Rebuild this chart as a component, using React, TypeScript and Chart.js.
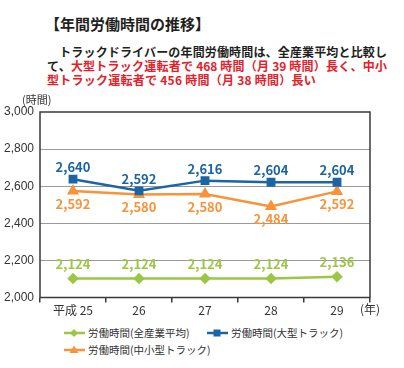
import React, { useEffect, useRef } from "react";
import { Chart, registerables } from "chart.js";

Chart.register(...registerables);

const years = ["平成 25", "26", "27", "28", "29"];
const allIndustry = [2102, 2102, 2102, 2102, 2112];
const largeTruck = [2638, 2575, 2630, 2621, 2621];
const midSmallTruck = [2574, 2555, 2558, 2491, 2572];
const allIndustryLabels = ["2,124", "2,124", "2,124", "2,124", "2,136"];
const largeTruckLabels = ["2,640", "2,592", "2,616", "2,604", "2,604"];
const midSmallTruckLabels = ["2,592", "2,580", "2,580", "2,484", "2,592"];
const yTickLabels = ["2,000", "2,200", "2,400", "2,600", "2,800", "3,000"];
const seriesNames = ["労働時間(全産業平均)", "労働時間(大型トラック)", "労働時間(中小型トラック)"];

const GREEN = "#9cc745";
const BLUE = "#1c64a3";
const ORANGE = "#f7933a";
const CJK = "'Noto Sans CJK JP', 'Noto Sans', sans-serif";

const labelSets = [allIndustryLabels, largeTruckLabels, midSmallTruckLabels];
const labelOffsets = [-15, -12, 13];
const labelColors = [GREEN, BLUE, ORANGE];

const extrasPlugin = {
  id: "extras",
  beforeDatasetsDraw(chart: any) {
    const { ctx, chartArea } = chart;
    ctx.save();
    ctx.strokeStyle = "#3a3a3a";
    ctx.lineWidth = 1.5;
    ctx.strokeRect(chartArea.left, chartArea.top, chartArea.right - chartArea.left, chartArea.bottom - chartArea.top);
    ctx.restore();
  },
  afterDatasetsDraw(chart: any) {
    const { ctx, chartArea } = chart;
    ctx.save();
    ctx.font = `bold 13px ${CJK}`;
    ctx.textAlign = "center";
    ctx.textBaseline = "middle";
    chart.data.datasets.forEach((ds: any, i: number) => {
      const meta = chart.getDatasetMeta(i);
      meta.data.forEach((pt: any, j: number) => {
        ctx.fillStyle = labelColors[i];
        ctx.fillText(labelSets[i][j], pt.x, pt.y + labelOffsets[i]);
      });
    });
    ctx.fillStyle = "#333";
    ctx.font = `11px ${CJK}`;
    ctx.textAlign = "left";
    ctx.fillText("(時間)", 22, chartArea.top - 12);
    ctx.font = `12px ${CJK}`;
    ctx.fillText("(年)", chartArea.right - 10, chartArea.bottom + 12);
    ctx.restore();
  },
};

function LegendItem({ color, shape, text }: { color: string; shape: string; text: string }) {
  let marker: any = null;
  if (shape === "diamond") marker = <polygon points="10,2 14,6 10,10 6,6" fill={color} />;
  if (shape === "square") marker = <rect x="6.5" y="2.5" width="7" height="7" fill={color} />;
  if (shape === "triangle") marker = <polygon points="10,1.5 14.5,9 5.5,9" fill={color} />;
  return (
    <div style={{ display: "flex", alignItems: "center", height: 17 }}>
      <svg width="21" height="12" style={{ marginRight: 3 }}>
        <line x1="0" y1="6" x2="21" y2="6" stroke={color} strokeWidth="2.5" />
        {marker}
      </svg>
      <span style={{ fontSize: 10.5, color: "#333", fontFamily: CJK, whiteSpace: "nowrap" }}>{text}</span>
    </div>
  );
}

export default function App() {
  const canvasRef = useRef<HTMLCanvasElement>(null);

  useEffect(() => {
    if (!canvasRef.current) return;
    const chart = new Chart(canvasRef.current, {
      type: "line",
      data: {
        labels: years,
        datasets: [
          {
            label: seriesNames[0],
            data: allIndustry,
            borderColor: GREEN,
            backgroundColor: GREEN,
            borderWidth: 2.5,
            pointStyle: "rectRot",
            pointRadius: 4,
            tension: 0,
          },
          {
            label: seriesNames[1],
            data: largeTruck,
            borderColor: BLUE,
            backgroundColor: BLUE,
            borderWidth: 2.5,
            pointStyle: "rect",
            pointRadius: 4.5,
            tension: 0,
          },
          {
            label: seriesNames[2],
            data: midSmallTruck,
            borderColor: ORANGE,
            backgroundColor: ORANGE,
            borderWidth: 2.5,
            pointStyle: "triangle",
            pointRadius: 4.5,
            tension: 0,
          },
        ],
      },
      options: {
        responsive: false,
        animation: false,
        layout: { padding: { left: 0, right: 34, top: 20, bottom: 0 } },
        plugins: { legend: { display: false }, tooltip: { enabled: false } },
        scales: {
          x: {
            offset: true,
            border: { display: false },
            grid: {
              offset: true,
              drawOnChartArea: false,
              drawTicks: true,
              tickLength: 5,
              color: "#3a3a3a",
              lineWidth: 1.5,
            },
            ticks: {
              padding: 1,
              color: "#333",
              font: { size: 12, family: CJK },
              maxRotation: 0,
              autoSkip: false,
            },
            afterFit(scale: any) {
              scale.height = 22.5;
            },
          },
          y: {
            min: 2000,
            max: 3000,
            border: { display: false },
            grid: {
              drawTicks: false,
              color: (c: any) => (c.tick && (c.tick.value === 2000 || c.tick.value === 3000) ? "rgba(0,0,0,0)" : "#9a9a9a"),
              lineWidth: 1,
              borderDash: [2, 2],
            } as any,
            ticks: {
              stepSize: 200,
              padding: 6,
              color: "#333",
              font: { size: 12, family: "'Liberation Sans', Arial, sans-serif" },
              callback: (v: any) => yTickLabels[Math.round((Number(v) - 2000) / 200)],
            },
            afterFit(scale: any) {
              scale.width = 40;
            },
          },
        },
      },
      plugins: [extrasPlugin],
    });
    return () => chart.destroy();
  }, []);

  const lineStyle: React.CSSProperties = {
    position: "absolute",
    left: 47,
    width: 340,
    height: 14,
    lineHeight: "14px",
    fontSize: 12,
    fontWeight: "bold",
    fontFamily: CJK,
    color: "#231f20",
    whiteSpace: "nowrap",
  };
  const red = "#e5202a";

  return (
    <div style={{ position: "absolute", left: 0, top: 0, width: 404, height: 368, background: "#fff", overflow: "hidden" }}>
      <div
        style={{
          position: "absolute",
          left: 45,
          top: 14,
          fontSize: 15,
          lineHeight: "19px",
          fontWeight: "bold",
          fontFamily: CJK,
          color: "#231f20",
          whiteSpace: "nowrap",
        }}
      >
        【年間労働時間の推移】
      </div>
      <div style={{ ...lineStyle, top: 45, textAlign: "justify", textAlignLast: "justify" } as any}>
        {"\u3000トラックドライバーの年間労働時間は、全産業平均と比較し"}
      </div>
      <div style={{ ...lineStyle, top: 59, textAlign: "justify", textAlignLast: "justify" } as any}>
        て、<span style={{ color: red }}>大型トラック運転者で 468 時間（月 39 時間）長く、中小</span>
      </div>
      <div style={{ ...lineStyle, top: 73, color: red, letterSpacing: "0.25px" }}>型トラック運転者で 456 時間（月 38 時間）長い</div>
      <canvas
        ref={canvasRef}
        width={404}
        height={228}
        style={{ position: "absolute", left: 0, top: 92, width: 404, height: 228 }}
      />
      <div style={{ position: "absolute", left: 64, top: 324 }}>
        <LegendItem color={GREEN} shape="diamond" text={seriesNames[0]} />
      </div>
      <div style={{ position: "absolute", left: 207, top: 324 }}>
        <LegendItem color={BLUE} shape="square" text={seriesNames[1]} />
      </div>
      <div style={{ position: "absolute", left: 64, top: 341 }}>
        <LegendItem color={ORANGE} shape="triangle" text={seriesNames[2]} />
      </div>
    </div>
  );
}
